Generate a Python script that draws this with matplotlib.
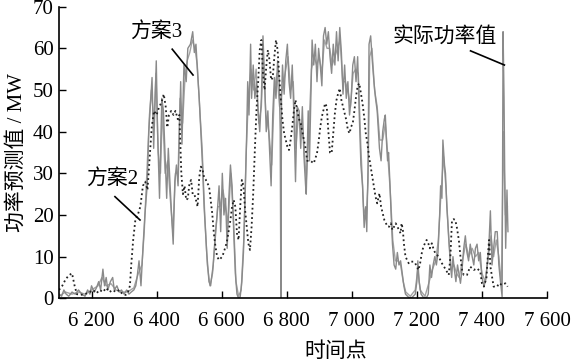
import matplotlib
matplotlib.use('Agg')
import matplotlib.pyplot as plt

plt.rcParams['font.family'] = ['Liberation Serif', 'Noto Sans CJK SC', 'DejaVu Sans']

# 实际功率值
actual_x = [6100, 6108, 6115, 6122, 6130, 6140, 6150, 6160, 6170, 6180, 6188, 6195, 6200, 6208,
            6215, 6222, 6228, 6235, 6240, 6245, 6250, 6258, 6265, 6270, 6278, 6285, 6292, 6300,
            6308, 6315, 6322, 6330, 6336, 6340,
            6346, 6352, 6358, 6364, 6371, 6376, 6386, 6391, 6399, 6403, 6409, 6416, 6421, 6431,
            6436, 6446, 6451, 6456, 6461, 6466, 6474, 6478, 6484, 6491, 6496, 6504, 6511, 6516,
            6521, 6526, 6531, 6536, 6541, 6546, 6554, 6561, 6566, 6574, 6581, 6586,
            6592, 6597, 6602, 6607, 6612, 6617, 6622, 6627, 6632, 6637, 6642, 6647, 6652, 6657,
            6662, 6667, 6672, 6677, 6680, 6684, 6689, 6692, 6697, 6702, 6707, 6712, 6717, 6722,
            6727, 6732, 6737, 6742, 6747, 6752, 6757, 6762, 6767, 6772, 6777, 6780, 6782, 6784,
            6787, 6792, 6797, 6802, 6807, 6812, 6817, 6822, 6827, 6832,
            6838, 6843, 6848, 6853, 6858, 6860, 6866, 6870, 6874, 6878, 6883, 6888, 6893, 6898,
            6903, 6908, 6913, 6918, 6923, 6928, 6933, 6938, 6943, 6948, 6953, 6958, 6963, 6968,
            6973, 6978, 6983, 6988, 6993, 6998, 7003, 7008, 7013, 7018, 7023, 7028, 7033, 7038,
            7043, 7046, 7050, 7053, 7058, 7063, 7068, 7073, 7078,
            7085, 7090, 7095, 7100, 7103, 7107, 7110, 7113, 7117, 7121, 7125, 7130, 7135, 7140,
            7145, 7150, 7155, 7160, 7165, 7175, 7185, 7195, 7200, 7203, 7207, 7213, 7220, 7230,
            7235, 7240, 7245, 7250, 7255, 7260, 7265, 7270, 7273, 7277, 7280, 7285, 7288, 7292,
            7297, 7303, 7307, 7311, 7315, 7320, 7325,
            7334, 7339, 7344, 7349, 7354, 7359, 7364, 7370, 7375, 7380, 7385, 7390, 7395, 7400,
            7406, 7411, 7416, 7421, 7426, 7431, 7436, 7441, 7447, 7452, 7457, 7462, 7465, 7468,
            7470, 7473, 7477, 7480]
actual_y = [1.0, 0.5, 2.0, 1.0, 0.5, 1.5, 1.0, 2.0, 1.0, 0.5, 2.0, 1.0, 3.0, 1.5,
            2.5, 4.0, 2.0, 7.0, 3.0, 5.0, 2.0, 4.0, 5.0, 2.0, 3.0, 1.5, 2.0, 1.0,
            2.0, 1.0, 1.5, 2.0, 3.0, 5.0,
            9, 3, 12, 20, 27, 40, 53, 36, 57, 40, 24, 48, 45, 24,
            36, 20, 13, 28, 32, 27, 52, 37, 56, 52, 60, 61, 64, 59,
            61, 54, 48, 40, 32, 22, 11, 4, 3, 8, 16, 20,
            27, 16, 30, 20, 24, 12, 24, 32, 27, 16, 6, 1, 0, 0.4,
            4, 11, 24, 40, 52, 44, 61, 48, 56, 48, 52, 45, 40, 48,
            63, 52, 40, 45, 36, 27, 44, 53, 48, 57, 52, 40, 0, 48,
            56, 49, 57, 61, 52, 48, 56, 44, 28, 46,
            45, 36, 46, 34, 27, 25, 45, 33, 48, 62, 56, 61, 52, 60,
            56, 51, 63, 65, 61, 64, 58, 54, 61, 56, 64, 57, 65, 59,
            49, 56, 48, 52, 44, 48, 56, 58, 52, 58, 44, 32, 27, 17,
            22, 16, 32, 61, 63, 57, 52, 48, 45,
            36, 33, 40, 43, 44, 37, 33, 35, 28, 20, 13, 8, 7, 11,
            8, 9, 6, 3, 1, 0.2, 0.2, 1, 4, 9, 4, 1, 0.2, 0.2,
            1, 8, 5, 8, 10, 8, 11, 20, 27, 24, 38, 32, 30, 22,
            16, 8, 5, 10, 7, 4, 8,
            3.6, 7, 12, 15, 11, 9, 13, 10, 8, 12, 13, 9, 11, 5,
            3, 4, 8, 12, 21, 8, 12, 16, 16, 8, 4, 0.4, 64, 48,
            30, 12, 26, 16]

# 方案2
s2_x = [6100, 6110, 6120, 6130, 6140, 6148, 6155, 6165, 6180, 6195, 6205, 6215, 6225, 6235,
        6245, 6255, 6265, 6275, 6285, 6295, 6305, 6312, 6318, 6322, 6328, 6335, 6342, 6350,
        6358, 6365, 6372, 6378, 6385, 6392, 6400, 6408, 6415, 6422, 6428, 6433, 6438, 6445,
        6452, 6458, 6465, 6470, 6476, 6481, 6486, 6491, 6496, 6501, 6506, 6511, 6516, 6521,
        6526, 6531, 6536, 6541, 6546, 6551, 6556, 6561, 6566, 6571, 6576, 6581, 6586,
        6592, 6602, 6612, 6617, 6622, 6627, 6632, 6637, 6642, 6647, 6652, 6657, 6662, 6667,
        6672, 6677, 6682, 6687, 6692, 6697, 6702, 6707, 6712, 6717, 6722, 6727, 6732, 6737,
        6742, 6747, 6752, 6757, 6762, 6767, 6772, 6777, 6782, 6787, 6792, 6797, 6802, 6807,
        6812, 6817, 6822, 6827, 6832,
        6838, 6843, 6853, 6858, 6863, 6873, 6883, 6893, 6898, 6903, 6908, 6913, 6918, 6923,
        6928, 6933, 6938, 6943, 6948, 6953, 6958, 6963, 6968, 6973, 6978, 6983, 6988, 6993,
        6998, 7003, 7008, 7013, 7018, 7023, 7028, 7033, 7038, 7043, 7048, 7053, 7058, 7063,
        7068, 7073, 7078,
        7085, 7090, 7095, 7100, 7105, 7110, 7115, 7120, 7125, 7130, 7135, 7140, 7145, 7150,
        7153, 7157, 7160, 7165, 7170, 7175, 7180, 7185, 7190, 7195, 7200, 7205, 7210, 7215,
        7220, 7225, 7230, 7235, 7240,
        7246, 7252, 7257, 7267, 7277, 7288, 7298, 7303, 7308, 7313, 7318, 7323, 7329, 7334,
        7339, 7344, 7354, 7364, 7375, 7385, 7395, 7400, 7406, 7414, 7418, 7422, 7426, 7436,
        7447, 7452, 7462, 7472, 7479]
s2_y = [2, 3, 4.5, 5.5, 6, 3, 1, 0.8, 1, 1.5, 2, 1.2, 2, 1.5,
        2.5, 1.5, 2, 1.5, 2, 1, 0.8, 1.5, 3, 8, 14, 19, 20, 22,
        27, 28, 26, 33, 41, 45, 44, 46, 47, 49, 46, 41, 44, 45,
        44, 45, 43, 44, 30, 25, 27, 23.6, 24, 27.6, 28.4, 25, 25, 23.6,
        22, 29, 31.6, 31, 29, 28.5, 27.6, 27, 23.6, 20.4, 15.6, 12.4, 10,
        9.2, 10, 12.4, 14, 16.4, 18.8, 22, 23.6, 22, 15.6, 14, 22, 28.4, 27,
        21.2, 17.2, 13.2, 11.6, 17.2, 25.2, 35.6, 45.2, 51.6, 59.6, 62, 54, 50, 55.6,
        59.6, 57.2, 52.4, 53, 58, 62, 59.6, 53.2, 47.6, 42.8, 39.6, 38, 36.4, 35.6,
        38, 41.2, 45, 47.6, 45,
        43, 42, 38, 36, 33, 33, 32.4, 34.8, 37.6, 41, 43.6, 45.2, 46.8, 46,
        40, 35, 34.8, 39.6, 44.4, 47.6, 49.2, 50.4, 47.6, 46, 44.4, 42.8, 40.4, 39.6,
        41.2, 42, 45, 48.4, 51, 51.6, 49.2, 46.8, 43.6, 39.6, 37.2, 34, 31.6, 29.2,
        26.8, 24.4, 22.8,
        25.2, 22, 20.4, 18.8, 18, 17.2, 17.2, 18, 16.4, 17.2, 18, 17.2, 16.4, 15.6,
        18, 16.4, 13.2, 10, 9.2, 8.4, 8.8, 8.8, 8.8, 8.4, 7.6, 6.8, 8.4, 10.8,
        12.4, 13.2, 14, 13.2, 12,
        13.2, 11.6, 10.8, 10, 8.4, 7, 5.6, 10, 18.8, 19, 18.8, 17, 14, 10,
        6.8, 5.6, 5.6, 7.6, 6.8, 7.2, 6.4, 3.6, 2.8, 5, 10, 14, 7.6, 2.8,
        2.8, 3.6, 3.2, 3.6, 2.8]

# 方案3
s3_x = [6100, 6120, 6140, 6160, 6180, 6200, 6220, 6232, 6245, 6260, 6275, 6290, 6310, 6330,
        6344, 6355, 6362, 6370, 6378, 6384, 6392, 6398, 6405, 6412, 6418, 6426, 6434, 6442,
        6450, 6458, 6466, 6472, 6480, 6488, 6494, 6502, 6510, 6518, 6525, 6533, 6540, 6548,
        6556, 6564, 6572, 6580, 6588, 6595, 6604, 6612, 6620, 6628, 6636, 6644, 6652, 6660,
        6668, 6675, 6682, 6690, 6698, 6706, 6714, 6722, 6728, 6736, 6745, 6754, 6762, 6770,
        6778, 6786, 6795, 6804, 6812, 6820, 6828, 6836, 6845, 6852, 6860, 6868, 6876, 6884,
        6892, 6900, 6908, 6916, 6924, 6932, 6940, 6948, 6956, 6964, 6972, 6980, 6988, 6996,
        7004, 7012, 7020, 7028, 7036, 7044, 7050, 7055, 7062, 7070, 7078, 7086, 7095, 7103,
        7110, 7118, 7126, 7134, 7142, 7150, 7158, 7166, 7180, 7195, 7203, 7210, 7225, 7238,
        7248, 7258, 7266, 7274, 7282, 7290, 7298, 7306, 7314, 7322, 7330, 7340, 7350, 7360,
        7370, 7380, 7390, 7400, 7410, 7420, 7428, 7436, 7444, 7452, 7460, 7466, 7472, 7478]
s3_y = [0.5, 1.5, 1, 1.5, 1, 2, 3, 5, 3, 3.5, 2, 1.5, 1.5, 2.5,
        6, 8, 16, 30, 44, 50, 42, 54, 35, 30, 46, 30, 33, 24,
        16, 30, 30, 48, 42, 54, 57, 59, 62, 60, 56, 45, 36, 20,
        8, 3, 6, 14, 22, 22, 26, 22, 18, 30, 20, 4, 0.5, 2,
        14, 34, 48, 55, 50, 55, 42, 46, 58, 44, 40, 32, 50, 54,
        46, 50, 54, 58, 50, 52, 36, 44, 40, 38, 28, 40, 55, 58,
        56, 58, 54, 62, 60, 60, 56, 58, 60, 62, 52, 52, 50, 46,
        54, 55, 54, 36, 22, 19, 28, 58, 60, 50, 46, 38, 38, 42,
        35, 26, 14, 9, 9, 8, 4, 1.5, 0.5, 2, 7, 2, 0.5, 4,
        7, 9, 14, 25, 34, 26, 14, 7, 8, 6, 5, 9, 13, 10,
        12, 10, 11, 6, 4, 10, 15, 10, 14, 10, 3, 40, 20, 22]

xticks = [6200, 6400, 6600, 6800, 7000, 7200, 7400, 7600]
xtick_labels = ['6 200', '6 400', '6 600', '6 800', '7 000', '7 200', '7 400', '7 600']
yticks = [0, 10, 20, 30, 40, 50, 60, 70]

fig = plt.figure(figsize=(5.75, 3.64), dpi=100)
ax = fig.add_axes([0.1026, 0.1805, 0.8487, 0.8011])

ax.plot(s3_x, s3_y, color='#a3a3a3', lw=1.0)
ax.plot(actual_x, actual_y, color='#8a8a8a', lw=1.0)
ax.plot(s2_x, s2_y, color='#222222', lw=1.3, linestyle=(0, (1, 1.6)))

ax.set_xlim(6100, 7600)
ax.set_ylim(0, 70)
ax.set_xticks(xticks)
ax.set_xticklabels(xtick_labels)
ax.set_yticks(yticks)
ax.tick_params(direction='in', length=5, width=1, labelsize=15)
ax.tick_params(axis='x', pad=10)
ax.tick_params(axis='y', pad=4)
for s in ['top', 'right']:
    ax.spines[s].set_visible(False)
for s in ['left', 'bottom']:
    ax.spines[s].set_linewidth(1.2)

ax.set_xlabel('时间点', fontsize=15)
ax.xaxis.set_label_coords(0.568, -0.15)
ax.set_ylabel('功率预测值 / MW', fontsize=15)

# annotation labels and leader lines
ax.text(6398, 63.9, '方案3', fontsize=15, ha='center', va='center')
ax.plot([6448, 6512], [59.8, 53.6], color='black', lw=1.2)
ax.text(6263, 28.6, '方案2', fontsize=15, ha='center', va='center')
ax.plot([6272, 6349], [24.4, 18.8], color='black', lw=1.2)
ax.text(7285, 62.8, '实际功率值', fontsize=15, ha='center', va='center')
ax.plot([7365, 7469], [59.4, 56.0], color='black', lw=1.2)

fig.savefig('out.png', dpi=100)
